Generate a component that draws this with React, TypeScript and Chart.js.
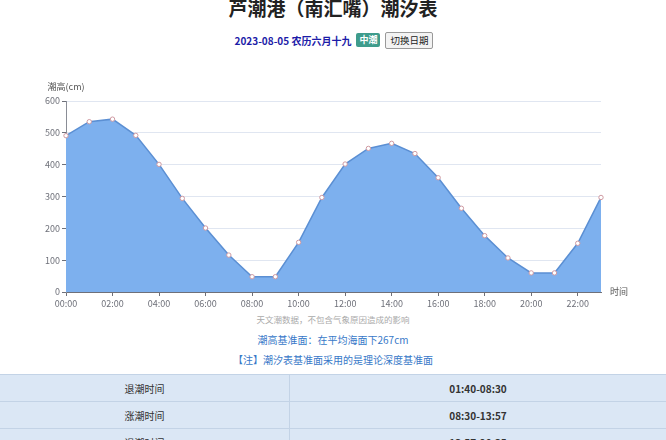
import { useEffect, useRef } from "react";
import { Chart, registerables } from "chart.js";

Chart.register(...registerables);

const hours = ["00:00","01:00","02:00","03:00","04:00","05:00","06:00","07:00","08:00","09:00","10:00","11:00",
  "12:00","13:00","14:00","15:00","16:00","17:00","18:00","19:00","20:00","21:00","22:00","23:00"];
const tideHeights = [491, 535, 543, 492, 401, 294, 201, 116, 48, 48, 156, 297,
  402, 451, 467, 435, 359, 263, 177, 107, 60, 60, 153, 297];
const yTicks = [0, 100, 200, 300, 400, 500, 600];
const tableRows = [
  ["退潮时间", "01:40-08:30"],
  ["涨潮时间", "08:30-13:57"],
  ["退潮时间", "13:57-20:35"],
];

const FONT = "'Noto Sans CJK SC', 'Noto Sans', sans-serif";

const axisNames = {
  id: "axisNames",
  afterDraw(chart: Chart) {
    const { ctx, chartArea } = chart;
    ctx.save();
    ctx.fillStyle = "#555";
    ctx.font = `9px ${FONT}`;
    ctx.textAlign = "center";
    ctx.textBaseline = "middle";
    ctx.fillText("潮高(cm)", chartArea.left, chartArea.top - 14);
    ctx.textAlign = "left";
    ctx.fillText("时间", chartArea.right + 9, chartArea.bottom);
    ctx.restore();
  },
};

export default function App() {
  const ref = useRef<HTMLCanvasElement>(null);

  useEffect(() => {
    if (!ref.current) return;
    const chart = new Chart(ref.current, {
      type: "line",
      data: {
        labels: hours,
        datasets: [{
          data: tideHeights,
          borderColor: "#5b8fd3",
          borderWidth: 1.5,
          backgroundColor: "#7db0ee",
          fill: "origin",
          tension: 0,
          pointRadius: 2.2,
          pointBackgroundColor: "#ffffff",
          pointBorderColor: "#cf9aa2",
          pointBorderWidth: 1,
        }],
      },
      options: {
        responsive: false,
        animation: false,
        layout: { padding: { top: 26, right: 65, left: 0, bottom: 0 } },
        plugins: { legend: { display: false }, tooltip: { enabled: false } },
        scales: {
          x: {
            offset: false,
            afterFit: (s: any) => { s.height = 18; },
            border: { color: "#6e7079" },
            grid: {
              drawOnChartArea: false,
              tickLength: 4,
              color: (c: any) => (c.index % 2 === 0 ? "#6e7079" : "rgba(0,0,0,0)"),
            },
            ticks: {
              autoSkip: false,
              maxRotation: 0,
              padding: 2,
              color: "#6e7079",
              font: { size: 9, family: FONT },
              callback: (_v: any, i: number) => (i % 2 === 0 ? hours[i] : ""),
            },
          },
          y: {
            min: yTicks[0],
            max: yTicks[yTicks.length - 1],
            afterFit: (s: any) => { s.width = 66; },
            afterBuildTicks: (s: any) => { s.ticks = yTicks.map((v) => ({ value: v })); },
            border: { color: "#8a8d96" },
            grid: { color: "#e0e6f1", tickLength: 4, tickColor: "#6e7079" },
            ticks: { color: "#6e7079", padding: 2, font: { size: 9, family: FONT } },
          },
        },
      },
      plugins: [axisNames],
    });
    return () => chart.destroy();
  }, []);

  const center = { textAlign: "center" as const, position: "absolute" as const, left: 0, width: 666 };
  const cell = { textAlign: "center" as const, border: "1px solid #c3d3e6", padding: 0, background: "#dbe7f5", height: 26 };

  return (
    <div style={{ position: "absolute", left: 0, top: 0, width: 666, height: 440, overflow: "hidden", background: "#fff", fontFamily: FONT }}>
      <div style={{ ...center, top: -5, fontSize: 19, fontWeight: 700, color: "#222", lineHeight: "26px" }}>
        芦潮港（南汇嘴）潮汐表
      </div>
      <div style={{ ...center, top: 31, height: 18, display: "flex", justifyContent: "center", alignItems: "center", gap: 5 }}>
        <span style={{ color: "#1c1ca8", fontSize: 10, fontWeight: 700, marginLeft: 2 }}>2023-08-05 农历六月十九</span>
        <span style={{ background: "#3e9c8c", color: "#fff", fontSize: 9, fontWeight: 700, padding: "1px 3px", borderRadius: 2, lineHeight: "12px" }}>中潮</span>
        <span style={{ border: "1px solid #999", background: "#f3f3f3", borderRadius: 2, fontSize: 9.5, padding: "0 4px", lineHeight: "15px", color: "#222" }}>切换日期</span>
      </div>
      <div style={{ position: "absolute", left: 0, top: 75, width: 666, height: 235 }}>
        <canvas ref={ref} width={666} height={235} style={{ width: 666, height: 235 }} />
      </div>
      <div style={{ ...center, top: 312, fontSize: 8.5, color: "#aaa", lineHeight: "14px" }}>天文潮数据，不包含气象原因造成的影响</div>
      <div style={{ ...center, top: 332, fontSize: 10, color: "#3778c8", lineHeight: "16px" }}>潮高基准面：在平均海面下267cm</div>
      <div style={{ ...center, top: 352, fontSize: 10, color: "#3778c8", lineHeight: "16px" }}>【注】潮汐表基准面采用的是理论深度基准面</div>
      <table style={{ position: "absolute", left: -1, top: 374, width: 668, borderCollapse: "collapse", fontSize: 10, color: "#333" }}>
        <tbody>
          {tableRows.map((r, i) => (
            <tr key={i}>
              <td style={{ ...cell, width: 289 }}>{r[0]}</td>
              <td style={{ ...cell, fontWeight: 700 }}>{r[1]}</td>
            </tr>
          ))}
        </tbody>
      </table>
    </div>
  );
}
